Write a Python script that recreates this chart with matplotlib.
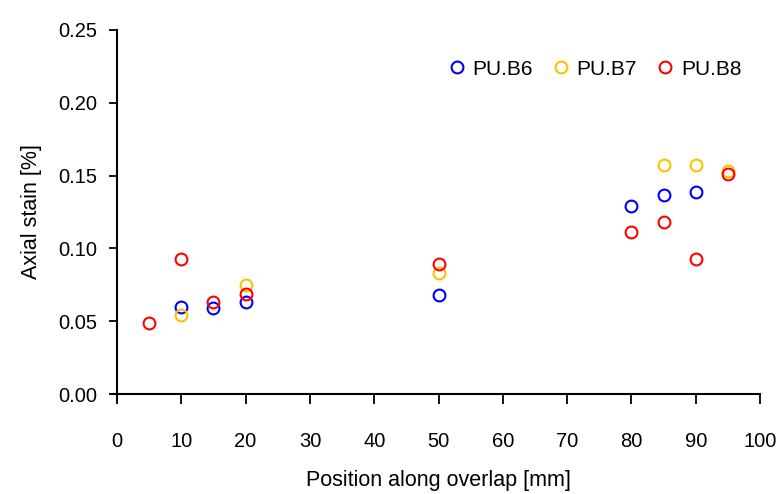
import matplotlib
matplotlib.use("Agg")
import matplotlib.pyplot as plt
from matplotlib import font_manager

names = {f.name for f in font_manager.fontManager.ttflist}
fam = 'Liberation Sans Narrow' if 'Liberation Sans Narrow' in names else 'Liberation Sans'
plt.rcParams['font.family'] = [fam, 'DejaVu Sans']

# Data
x_b6 = [10, 15, 20, 50, 80, 85, 90]
y_b6 = [0.060, 0.059, 0.063, 0.068, 0.129, 0.137, 0.139]
x_b7 = [10, 20, 50, 85, 90, 95]
y_b7 = [0.054, 0.075, 0.083, 0.157, 0.157, 0.153]
x_b8 = [5, 10, 15, 20, 50, 80, 85, 90, 95]
y_b8 = [0.049, 0.093, 0.063, 0.069, 0.089, 0.111, 0.118, 0.093, 0.151]

xticks = [0, 10, 20, 30, 40, 50, 60, 70, 80, 90, 100]
yticks = [0.00, 0.05, 0.10, 0.15, 0.20, 0.25]

fig = plt.figure(figsize=(7.82, 4.94), dpi=100)
ax = fig.add_axes([0.1496, 0.2024, 0.8224, 0.7369])

kw = dict(linestyle='none', marker='o', markersize=8.5, markerfacecolor='none', markeredgewidth=1.5)
ax.plot(x_b6, y_b6, color='#0000FF', label='PU.B6', **kw)
ax.plot(x_b7, y_b7, color='#FFC000', label='PU.B7', **kw)
ax.plot(x_b8, y_b8, color='#FF0000', label='PU.B8', **kw)

ax.set_xlim(0, 100)
ax.set_ylim(0, 0.25)
ax.set_xticks(xticks)
ax.set_yticks(yticks)
ax.set_yticklabels([f"{v:.2f}" for v in yticks])

for s in ['top', 'right']:
    ax.spines[s].set_visible(False)
for s in ['left', 'bottom']:
    ax.spines[s].set_linewidth(1.5)
ax.spines['left'].set_bounds(-0.004, 0.25)
ax.spines['bottom'].set_bounds(-0.8, 100)

ax.tick_params(axis='x', direction='out', length=7, width=1.3, pad=20, labelsize=14.5)
ax.tick_params(axis='y', direction='out', length=6, width=1.3, pad=8, labelsize=14.5)

ax.set_xlabel('Position along overlap [mm]', fontsize=15.5, labelpad=14)
ax.set_ylabel('Axial stain [%]', fontsize=15.5, labelpad=12)

ax.legend(loc='upper right', ncol=3, frameon=False, fontsize=15, handletextpad=0.15,
          columnspacing=0.75, handlelength=1.2, bbox_to_anchor=(1.0, 0.97))

fig.savefig('out.png', dpi=100)
